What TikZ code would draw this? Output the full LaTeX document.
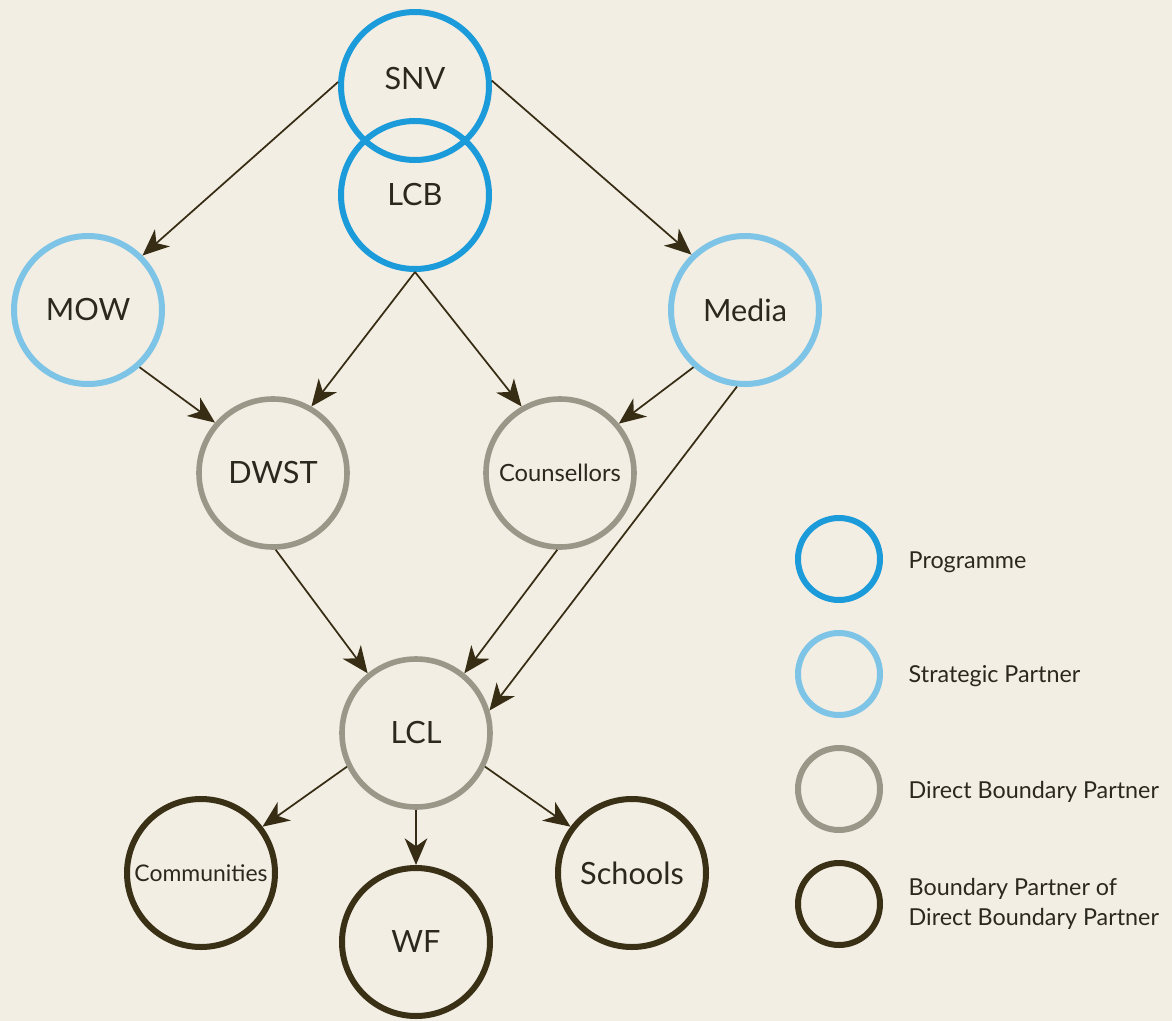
\documentclass[tikz,border=0pt]{standalone}
\usepackage{fontspec}
\setmainfont{Lato}
\usetikzlibrary{arrows.meta}
\definecolor{bgc}{HTML}{F2EEE4}
\definecolor{progc}{HTML}{1B9BDA}
\definecolor{stratc}{HTML}{7DC4E6}
\definecolor{directc}{HTML}{9B9788}
\definecolor{bpc}{HTML}{3A3016}
\definecolor{arrc}{HTML}{372D14}
\definecolor{txtc}{HTML}{2B2820}
\tikzset{
  ring/.style={circle, minimum size=111pt, inner sep=0pt, line width=4.5pt, text=txtc, font=\fontsize{23}{28}\selectfont},
  prog/.style={ring, draw=progc},
  strat/.style={ring, draw=stratc},
  direct/.style={ring, draw=directc, line width=4.2pt},
  bp/.style={ring, draw=bpc, line width=4.5pt},
  smalltxt/.style={font=\fontsize{17.8}{20}\selectfont},
  smallertxt/.style={font=\fontsize{17.2}{20}\selectfont},
  legring/.style={circle, minimum size=61.5pt, inner sep=0pt, line width=4.5pt},
  legtxt/.style={anchor=west, align=left, text=txtc, font=\fontsize{17.5}{22.5}\selectfont},
  conn/.style={draw=arrc, line width=1.3pt, -{Stealth[length=20pt, width=17pt, inset=6pt]}}
}
\begin{document}
\begin{tikzpicture}[x=0.75pt, y=-0.75pt]
\fill[bgc] (0,0) rectangle (1172,1021);
\useasboundingbox (0,0) rectangle (1172,1021);

% main nodes
\node[prog] (SNV) at (415,86) {\raisebox{12pt}{SNV}};
\node[prog] (LCB) at (415,195) {LCB};
\node[strat] (MOW) at (88,310) {MOW};
\node[strat] (Media) at (745,310) {Media};
\node[direct] (DWST) at (273,473) {DWST};
\node[direct, smalltxt] (Couns) at (560,473) {Counsellors};
\node[direct] (LCL) at (416,733) {LCL};
\node[bp, smallertxt] (Comm) at (201,873) {Communities};
\node[bp] (WF) at (416,942) {WF};
\node[bp] (Schools) at (632,873) {Schools};

% connectors
\draw[conn] (SNV.177) -- (MOW.45);
\draw[conn] (SNV.4) -- (Media.134);
\draw[conn] (LCB.-90) -- (DWST.60);
\draw[conn] (LCB.-90) -- (Couns.120);
\draw[conn] (MOW.-48) -- (DWST.139);
\draw[conn] (Media.-132) -- (Couns.40);
\draw[conn] (Media.-96) -- (LCL.17);
\draw[conn] (DWST.-88) -- (LCL.129);
\draw[conn] (Couns.-92) -- (LCL.51);
\draw[conn] (LCL.206) -- (Comm.37);
\draw[conn] (LCL.-90) -- (WF.90);
\draw[conn] (LCL.334) -- (Schools.143);

% legend
\node[legring, draw=progc] (L1) at (839,559) {};
\node[legring, draw=stratc] (L2) at (839,674) {};
\node[legring, draw=directc] (L3) at (839,789) {};
\node[legring, draw=bpc] (L4) at (839,904) {};
\node[legtxt] (T1) at (904,562) {Programme};
\node[legtxt] (T2) at (904,676) {Strategic Partner};
\node[legtxt] (T3) at (904,792) {Direct Boundary Partner};
\node[legtxt] (T4) at (904,904) {Boundary Partner of\\Direct Boundary Partner};
\end{tikzpicture}
\end{document}
